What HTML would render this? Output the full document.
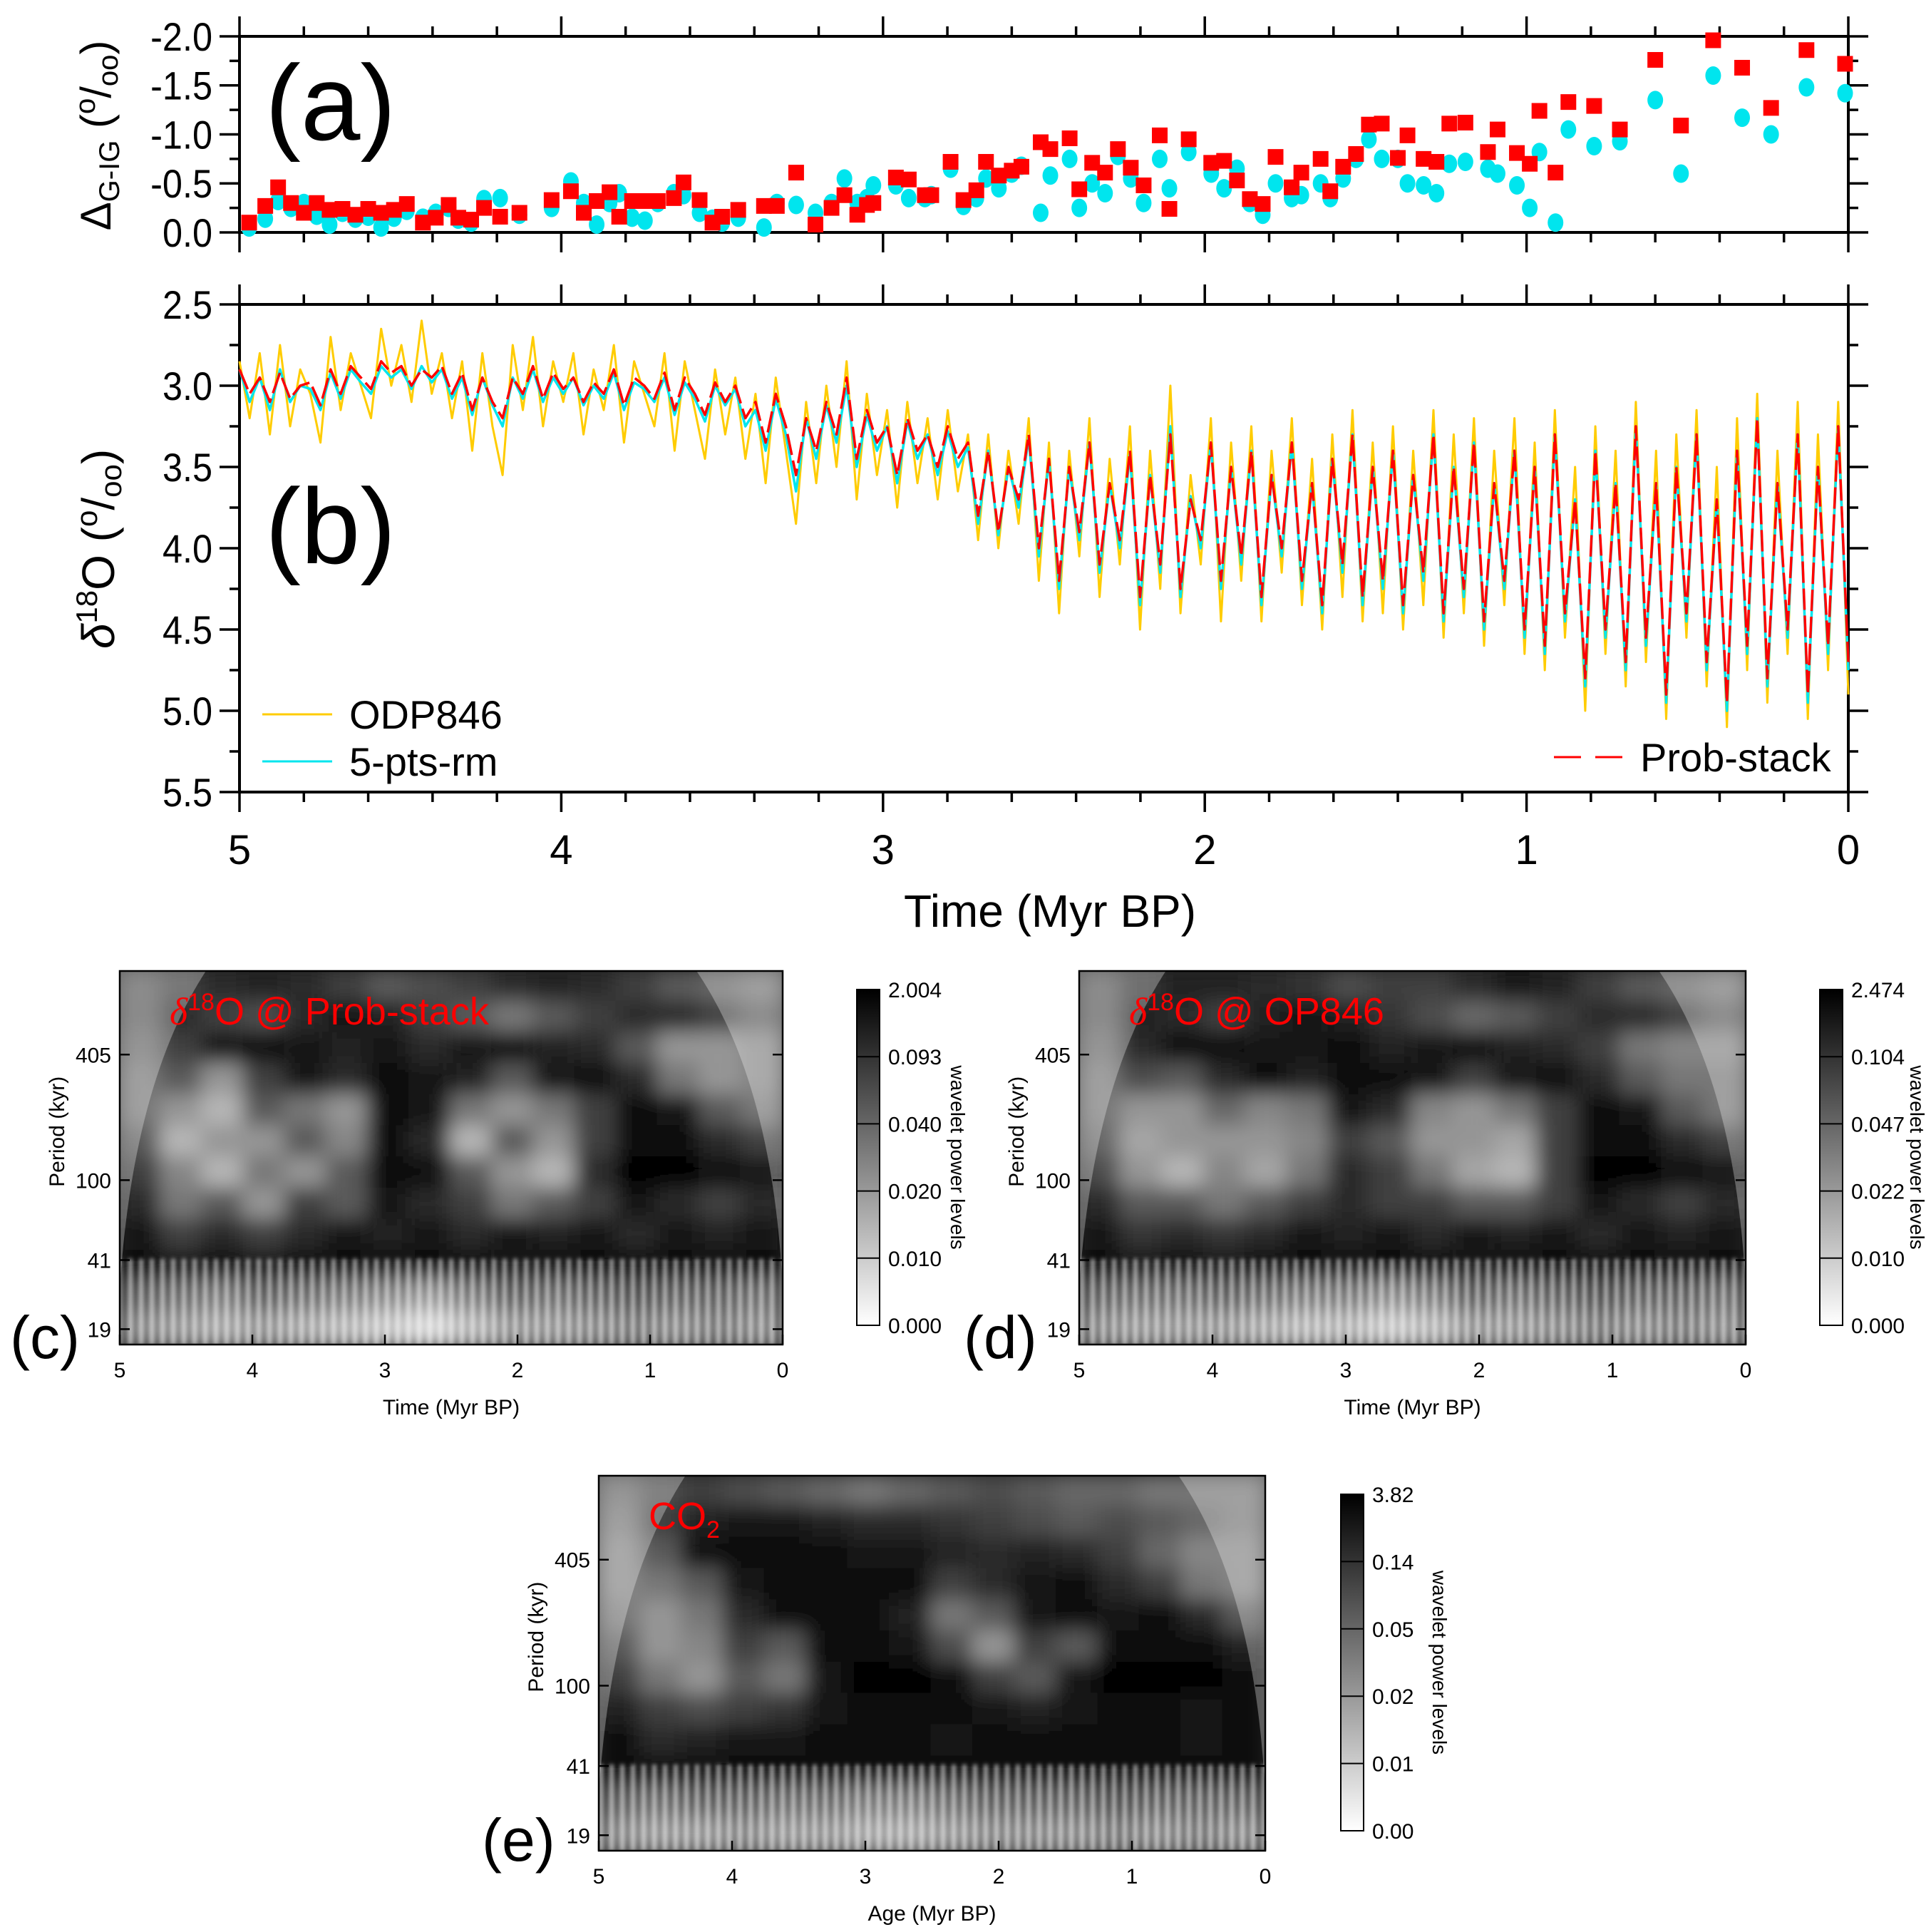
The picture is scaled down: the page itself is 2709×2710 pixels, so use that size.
<!DOCTYPE html>
<html><head><meta charset="utf-8"><style>
html,body{margin:0;padding:0;background:#fff}
svg{display:block;font-family:"Liberation Sans",sans-serif}
</style></head><body>
<svg id="fig" width="2709" height="2710" viewBox="0 0 2709 2710" xmlns="http://www.w3.org/2000/svg">
<defs>
<linearGradient id="cbg" x1="0" y1="0" x2="0" y2="1"><stop offset="0" stop-color="#000"/><stop offset="1" stop-color="#fff"/></linearGradient>
<filter id="blur" x="-10%" y="-10%" width="120%" height="120%"><feGaussianBlur stdDeviation="14"/></filter>
<filter id="blur2"><feGaussianBlur stdDeviation="3"/></filter>
<pattern id="streak" width="15" height="60" patternUnits="userSpaceOnUse"><rect x="0" y="0" width="6" height="60" fill="#fff" opacity="0.6"/></pattern>
</defs>
</svg>
<script>
// ---------- Panel (a) data ----------
const aTimes=[4.97,4.92,4.88,4.84,4.80,4.76,4.72,4.68,4.64,4.60,4.56,4.52,4.48,4.43,4.39,4.35,4.32,4.28,4.24,4.19,4.13,4.03,3.97,3.93,3.89,3.85,3.82,3.78,3.74,3.70,3.65,3.62,3.57,3.53,3.50,3.45,3.37,3.33,3.27,3.21,3.16,3.12,3.08,3.05,3.03,2.96,2.92,2.87,2.85,2.79,2.75,2.71,2.68,2.64,2.60,2.57,2.51,2.48,2.42,2.39,2.35,2.31,2.27,2.23,2.19,2.14,2.11,2.05,1.98,1.94,1.90,1.86,1.82,1.78,1.73,1.70,1.64,1.61,1.57,1.53,1.49,1.45,1.40,1.37,1.32,1.28,1.24,1.19,1.12,1.09,1.03,0.99,0.96,0.91,0.87,0.79,0.71,0.60,0.52,0.42,0.33,0.24,0.13,0.01];
const aRed=[-0.10,-0.27,-0.46,-0.30,-0.20,-0.30,-0.23,-0.24,-0.18,-0.24,-0.20,-0.23,-0.29,-0.10,-0.15,-0.28,-0.15,-0.13,-0.25,-0.16,-0.20,-0.33,-0.42,-0.20,-0.32,-0.41,-0.16,-0.32,-0.32,-0.32,-0.35,-0.51,-0.33,-0.10,-0.16,-0.23,-0.27,-0.27,-0.61,-0.08,-0.25,-0.38,-0.18,-0.28,-0.30,-0.56,-0.54,-0.38,-0.38,-0.72,-0.33,-0.43,-0.72,-0.58,-0.63,-0.67,-0.92,-0.85,-0.96,-0.44,-0.71,-0.61,-0.85,-0.66,-0.48,-0.99,-0.24,-0.95,-0.71,-0.73,-0.53,-0.34,-0.29,-0.77,-0.46,-0.61,-0.75,-0.42,-0.67,-0.80,-1.10,-1.11,-0.76,-0.99,-0.75,-0.72,-1.11,-1.12,-0.82,-1.05,-0.81,-0.70,-1.24,-0.61,-1.33,-1.29,-1.05,-1.76,-1.09,-1.96,-1.68,-1.27,-1.86,-1.72];
const aCyan=[-0.05,-0.14,-0.32,-0.25,-0.30,-0.17,-0.08,-0.20,-0.14,-0.16,-0.05,-0.15,-0.22,-0.15,-0.20,-0.25,-0.13,-0.10,-0.34,-0.35,-0.18,-0.25,-0.52,-0.30,-0.08,-0.30,-0.40,-0.15,-0.12,-0.30,-0.40,-0.38,-0.20,-0.14,-0.10,-0.15,-0.05,-0.30,-0.28,-0.20,-0.30,-0.55,-0.30,-0.35,-0.48,-0.48,-0.35,-0.35,-0.38,-0.65,-0.27,-0.35,-0.55,-0.45,-0.60,-0.68,-0.20,-0.58,-0.75,-0.25,-0.50,-0.40,-0.78,-0.55,-0.30,-0.75,-0.45,-0.82,-0.60,-0.45,-0.65,-0.30,-0.18,-0.50,-0.35,-0.38,-0.50,-0.35,-0.55,-0.75,-0.95,-0.75,-0.75,-0.50,-0.48,-0.40,-0.70,-0.72,-0.65,-0.60,-0.48,-0.25,-0.82,-0.10,-1.05,-0.88,-0.93,-1.35,-0.60,-1.60,-1.17,-1.00,-1.48,-1.42];

// ---------- Panel (b) data (time runs 5 -> 0, evenly spaced samples) ----------
const odp846=[2.85,3.20,2.80,3.30,2.75,3.25,2.90,3.05,3.35,2.70,3.15,2.80,3.00,3.20,2.65,3.00,2.75,3.10,2.60,3.05,2.80,3.20,2.85,3.40,2.80,3.25,3.55,2.75,3.15,2.70,3.25,2.85,3.10,2.80,3.30,2.90,3.15,2.75,3.35,2.85,3.05,3.25,2.80,3.40,2.85,3.15,3.45,2.90,3.30,2.95,3.45,
3.05,3.60,2.95,3.40,3.85,3.10,3.60,3.00,3.50,2.85,3.70,3.05,3.55,3.15,3.75,3.10,3.60,3.20,3.70,3.15,3.65,
3.30,3.95,3.30,4.00,3.40,3.85,3.20,4.20,3.35,4.40,3.40,4.05,3.20,4.30,3.45,4.10,3.25,4.50,3.40,4.25,3.00,4.40,3.55,4.10,3.20,4.45,3.35,4.20,3.25,4.45,3.40,4.15,3.20,4.35,3.45,4.50,3.30,4.30,3.15,4.45,3.35,4.40,3.25,4.50,3.40,4.35,3.15,4.55,3.30,4.40,3.20,4.60,3.40,4.35,3.20,4.65,
3.35,4.75,3.15,4.55,3.50,5.00,3.25,4.65,3.40,4.85,3.10,4.70,3.40,5.05,3.30,4.55,3.15,4.85,3.50,5.10,3.20,4.75,3.05,4.95,3.40,4.65,3.10,5.05,3.30,4.75,3.10,4.90];
const rm5=[2.90,3.10,2.95,3.15,2.90,3.10,3.00,3.02,3.15,2.92,3.08,2.90,2.98,3.05,2.88,2.95,2.90,3.02,2.88,2.98,2.90,3.08,2.95,3.18,2.95,3.12,3.25,2.95,3.08,2.90,3.10,2.95,3.05,2.95,3.12,3.00,3.08,2.92,3.15,2.98,3.02,3.10,2.95,3.18,2.98,3.08,3.22,3.00,3.12,3.02,3.25,
3.15,3.40,3.08,3.30,3.65,3.20,3.45,3.12,3.35,3.00,3.50,3.18,3.40,3.25,3.60,3.22,3.45,3.30,3.55,3.28,3.50,
3.38,3.85,3.40,3.92,3.50,3.75,3.32,4.05,3.45,4.25,3.50,3.95,3.35,4.15,3.60,4.00,3.42,4.35,3.55,4.15,3.25,4.30,3.68,4.00,3.35,4.25,3.50,4.10,3.40,4.35,3.55,4.05,3.35,4.25,3.60,4.40,3.45,4.15,3.30,4.35,3.50,4.25,3.40,4.40,3.55,4.20,3.30,4.45,3.50,4.30,3.35,4.50,3.60,4.25,3.40,4.55,
3.50,4.65,3.30,4.45,3.70,4.85,3.40,4.55,3.60,4.75,3.25,4.60,3.60,4.95,3.50,4.45,3.30,4.75,3.70,5.00,3.40,4.65,3.20,4.85,3.60,4.55,3.30,4.95,3.50,4.65,3.25,4.75];
const probStack=[2.90,3.05,2.95,3.10,2.92,3.08,3.00,2.98,3.12,2.90,3.05,2.88,2.95,3.02,2.85,2.92,2.88,3.00,2.90,2.95,2.88,3.05,2.92,3.15,2.95,3.10,3.20,2.95,3.05,2.88,3.08,2.92,3.02,2.95,3.10,2.98,3.05,2.90,3.12,2.95,3.00,3.08,2.92,3.15,2.95,3.05,3.18,2.98,3.10,3.00,3.20,
3.10,3.35,3.05,3.25,3.55,3.20,3.40,3.10,3.30,2.95,3.45,3.15,3.35,3.25,3.55,3.20,3.40,3.30,3.50,3.25,3.45,
3.35,3.80,3.40,3.90,3.50,3.70,3.30,4.00,3.45,4.20,3.50,3.90,3.35,4.10,3.60,3.95,3.40,4.30,3.55,4.10,3.30,4.25,3.70,3.95,3.35,4.20,3.50,4.05,3.40,4.30,3.55,4.00,3.35,4.20,3.60,4.35,3.45,4.10,3.30,4.30,3.50,4.20,3.40,4.35,3.55,4.15,3.30,4.40,3.50,4.25,3.35,4.45,3.60,4.20,3.40,4.50,
3.50,4.60,3.30,4.40,3.70,4.80,3.40,4.50,3.60,4.70,3.25,4.55,3.60,4.90,3.50,4.40,3.30,4.70,3.70,4.95,3.40,4.60,3.20,4.80,3.60,4.50,3.30,4.90,3.50,4.60,3.25,4.70];
const timeTicks=[5,4,3,2,1,0];
const aTickLabels=["-2.0","-1.5","-1.0","-0.5","0.0"];
const aTickVals=[-2.0,-1.5,-1.0,-0.5,0.0];
const bTickVals=[2.5,3.0,3.5,4.0,4.5,5.0,5.5];
const bTickLabels=["2.5","3.0","3.5","4.0","4.5","5.0","5.5"];

// ---------- Wavelet data (darkness 0..1; rows: long period -> short period; cols: 5 -> 0 Myr) ----------
const waveGridC=[
[0.5,0.6,0.7,0.75,0.7,0.6,0.5,0.55,0.6,0.7,0.75,0.7,0.6,0.5,0.45,0.4],
[0.5,0.7,0.6,0.55,0.7,0.8,0.75,0.6,0.5,0.4,0.5,0.6,0.7,0.7,0.6,0.5],
[0.45,0.6,0.8,0.85,0.8,0.75,0.8,0.7,0.8,0.85,0.75,0.7,0.5,0.3,0.3,0.35],
[0.4,0.5,0.3,0.6,0.8,0.7,0.9,0.8,0.75,0.5,0.8,0.85,0.7,0.4,0.3,0.35],
[0.4,0.3,0.2,0.5,0.4,0.3,0.9,0.8,0.4,0.3,0.4,0.6,0.85,0.8,0.5,0.4],
[0.5,0.2,0.3,0.3,0.5,0.35,0.85,0.7,0.2,0.5,0.3,0.6,0.9,0.9,0.7,0.6],
[0.6,0.35,0.2,0.4,0.3,0.5,0.9,0.9,0.5,0.3,0.2,0.7,0.95,0.95,0.9,0.8],
[0.7,0.4,0.5,0.3,0.6,0.5,0.8,0.7,0.6,0.4,0.5,0.6,0.8,0.7,0.6,0.7],
[0.8,0.6,0.7,0.6,0.7,0.8,0.75,0.8,0.7,0.8,0.75,0.8,0.7,0.8,0.75,0.8],
[0.85,0.8,0.85,0.8,0.9,0.85,0.9,0.85,0.9,0.8,0.9,0.85,0.9,0.85,0.9,0.85],
[0.5,0.45,0.4,0.5,0.45,0.4,0.35,0.3,0.4,0.5,0.45,0.5,0.55,0.5,0.5,0.45],
[0.35,0.3,0.25,0.3,0.25,0.2,0.15,0.1,0.2,0.3,0.3,0.35,0.4,0.35,0.4,0.35]];
const waveGridD=[
[0.5,0.65,0.75,0.75,0.7,0.65,0.55,0.6,0.6,0.7,0.8,0.75,0.6,0.5,0.45,0.4],
[0.5,0.75,0.7,0.6,0.75,0.8,0.75,0.65,0.55,0.45,0.5,0.6,0.7,0.7,0.6,0.5],
[0.45,0.7,0.85,0.85,0.8,0.8,0.85,0.75,0.8,0.85,0.75,0.7,0.6,0.4,0.35,0.35],
[0.4,0.55,0.5,0.7,0.85,0.75,0.9,0.85,0.8,0.6,0.8,0.85,0.7,0.5,0.4,0.4],
[0.4,0.3,0.3,0.45,0.35,0.4,0.8,0.7,0.35,0.3,0.4,0.6,0.85,0.8,0.5,0.4],
[0.45,0.25,0.3,0.3,0.3,0.35,0.6,0.5,0.3,0.3,0.25,0.6,0.9,0.9,0.7,0.6],
[0.55,0.3,0.2,0.35,0.25,0.4,0.7,0.6,0.4,0.25,0.2,0.6,0.95,0.95,0.9,0.8],
[0.7,0.5,0.5,0.4,0.5,0.6,0.7,0.6,0.6,0.5,0.5,0.6,0.8,0.7,0.6,0.7],
[0.8,0.65,0.7,0.65,0.7,0.8,0.75,0.8,0.7,0.8,0.75,0.8,0.7,0.8,0.75,0.8],
[0.85,0.8,0.85,0.8,0.9,0.85,0.9,0.85,0.9,0.8,0.9,0.85,0.9,0.85,0.9,0.85],
[0.5,0.45,0.45,0.5,0.45,0.4,0.4,0.35,0.4,0.5,0.45,0.5,0.55,0.5,0.5,0.45],
[0.35,0.3,0.3,0.3,0.25,0.2,0.2,0.15,0.2,0.3,0.3,0.35,0.4,0.35,0.4,0.35]];
const waveGridE=[
[0.45,0.55,0.6,0.55,0.5,0.45,0.4,0.45,0.5,0.55,0.5,0.45,0.45,0.4,0.4,0.4],
[0.4,0.6,0.75,0.8,0.8,0.75,0.7,0.7,0.65,0.6,0.55,0.5,0.55,0.5,0.45,0.4],
[0.35,0.5,0.85,0.9,0.9,0.85,0.8,0.8,0.75,0.7,0.75,0.7,0.6,0.45,0.35,0.35],
[0.35,0.4,0.5,0.8,0.9,0.9,0.85,0.85,0.6,0.7,0.8,0.85,0.7,0.6,0.4,0.35],
[0.4,0.3,0.4,0.7,0.85,0.9,0.9,0.75,0.4,0.5,0.8,0.85,0.8,0.85,0.7,0.5],
[0.5,0.3,0.35,0.6,0.5,0.85,0.9,0.8,0.55,0.3,0.6,0.5,0.85,0.9,0.85,0.75],
[0.6,0.4,0.3,0.5,0.4,0.8,0.95,0.95,0.9,0.6,0.5,0.8,0.95,0.95,0.95,0.9],
[0.75,0.6,0.55,0.6,0.65,0.8,0.85,0.85,0.85,0.8,0.75,0.8,0.85,0.85,0.8,0.85],
[0.85,0.7,0.75,0.8,0.8,0.85,0.85,0.85,0.8,0.85,0.85,0.85,0.85,0.85,0.8,0.85],
[0.9,0.85,0.9,0.9,0.9,0.9,0.9,0.9,0.9,0.9,0.9,0.9,0.9,0.9,0.9,0.9],
[0.5,0.45,0.5,0.5,0.45,0.45,0.4,0.4,0.45,0.5,0.5,0.5,0.55,0.5,0.5,0.5],
[0.35,0.3,0.3,0.35,0.3,0.3,0.25,0.25,0.3,0.35,0.35,0.35,0.4,0.35,0.4,0.35]];
const periodTicks=[405,100,41,19];
const cbLabelsC=["2.004","0.093","0.040","0.020","0.010","0.000"];
const cbLabelsD=["2.474","0.104","0.047","0.022","0.010","0.000"];
const cbLabelsE=["3.82","0.14","0.05","0.02","0.01","0.00"];

const NS="http://www.w3.org/2000/svg";
const svg=document.getElementById('fig');
function mk(tag,attrs,parent){const e=document.createElementNS(NS,tag);for(const k in attrs)e.setAttribute(k,attrs[k]);(parent||svg).appendChild(e);return e;}

// ---------- Top axes geometry ----------
const X0=336,X1=2593;
const xT=t=>X0+(5-t)/5*(X1-X0);
const aY0=51,aY1=326;
const yA=v=>aY1-(v/-2.0)*(aY1-aY0);
const bY0=427,bY1=1111;
const yB=v=>bY0+(v-2.5)/3.0*(bY1-bY0);

function frame(y0,y1,name,majorVals,yfun,labels){
  const g=mk('g',{});
  
  
  const r=mk('rect',{x:X0,y:y0,width:X1-X0,height:y1-y0,fill:'none',stroke:'#000','stroke-width':4},g);
  
  
  for(let i=0;i<=25;i++){
    const t=5-i*0.2, x=xT(t), major=(i%5===0);
    const L=major?28:14;
    const tk=mk('path',{d:`M${x},${y0}V${y0-L}M${x},${y1}V${y1+L}`,stroke:'#000','stroke-width':3.5},g);
    
    
  }
  majorVals.forEach((v,i)=>{
    const y=yfun(v);
    const tk=mk('path',{d:`M${X0},${y}H${X0-28}M${X1},${y}H${X1+28}`,stroke:'#000','stroke-width':3.5},g);
    
    
    const tx=mk('text',{x:X0-38,y:y+20,'text-anchor':'end','font-size':56,transform:`translate(${X0-38},${y}) scale(0.9,1) translate(${-(X0-38)},${-y})`},g);
    tx.textContent=labels[i];
    
    
    if(i<majorVals.length-1){
      const ym=yfun((v+majorVals[i+1])/2);
      const mt=mk('path',{d:`M${X0},${ym}H${X0-14}M${X1},${ym}H${X1+14}`,stroke:'#000','stroke-width':3.5},g);
      
      
    }
  });
  return g;
}
frame(aY0,aY1,'panel-a-axes',aTickVals,yA,aTickLabels);
frame(bY0,bY1,'panel-b-axes',bTickVals,yB,bTickLabels);

timeTicks.forEach(t=>{
  const tx=mk('text',{x:xT(t),y:1212,'text-anchor':'middle','font-size':58});
  tx.textContent=String(t);
  
  
});

aTimes.forEach((t,i)=>{
  const c=mk('ellipse',{cx:xT(t),cy:yA(aCyan[i]),rx:11,ry:13,fill:'#00e5ee'});
  
  
});
aTimes.forEach((t,i)=>{
  const s=mk('rect',{x:xT(t)-11,y:yA(aRed[i])-11,width:22,height:22,fill:'#ff0000'});
  
  
});

function series(arr,color,w,dash,name){
  const n=arr.length;
  const pts=arr.map((v,i)=>`${xT(5-5*i/(n-1)).toFixed(1)},${yB(v).toFixed(1)}`).join(' ');
  const p=mk('polyline',{points:pts,fill:'none',stroke:color,'stroke-width':w,'stroke-dasharray':dash||'none','stroke-linejoin':'round'});
  
  
}
series(odp846,'#ffcc00',3,null,'odp846-line');
series(rm5,'#00e5ee',3.5,null,'rm5-line');
series(probStack,'#ff0000',3.5,'30 8','prob-stack-line');
</script>
<script>
(function(){
const add=(tag,attrs,text,name)=>{const e=mk(tag,attrs);if(text!==null)e.textContent=text;return e;};
add('text',{x:372,y:196,'font-size':150},'(a)','panel-a-label');
add('text',{x:372,y:790,'font-size':150},'(b)','panel-b-label');
const ya=add('text',{x:0,y:0,'font-size':60,transform:'translate(155,190) rotate(-90)','text-anchor':'middle'},null,'panel-a-y-title');
ya.innerHTML='Δ<tspan font-size="40" dy="12">G-IG</tspan><tspan dy="-12"> (</tspan><tspan font-size="40" dy="-22">o</tspan><tspan dy="22">/</tspan><tspan font-size="40" dy="10">oo</tspan><tspan dy="-10">)</tspan>';
const yb=add('text',{x:0,y:0,'font-size':64,transform:'translate(160,770) rotate(-90)','text-anchor':'middle'},null,'panel-b-y-title');
yb.innerHTML='<tspan font-style="italic">δ</tspan><tspan font-size="42" dy="-24">18</tspan><tspan dy="24">O (</tspan><tspan font-size="42" dy="-24">o</tspan><tspan dy="24">/</tspan><tspan font-size="42" dy="10">oo</tspan><tspan dy="-10">)</tspan>';
add('text',{x:1473,y:1300,'font-size':64,'text-anchor':'middle'},'Time (Myr BP)','x-axis-title');
add('line',{x1:368,y1:1002,x2:466,y2:1002,stroke:'#ffcc00','stroke-width':3},null,'legend-odp846-swatch');
add('text',{x:490,y:1022,'font-size':56},'ODP846','legend-odp846-label');
add('line',{x1:368,y1:1068,x2:466,y2:1068,stroke:'#00e5ee','stroke-width':3},null,'legend-rm5-swatch');
add('text',{x:490,y:1088,'font-size':56},'5-pts-rm','legend-rm5-label');
add('line',{x1:2180,y1:1062,x2:2277,y2:1062,stroke:'#ff0000','stroke-width':3,'stroke-dasharray':'38 20'},null,'legend-prob-stack-swatch');
add('text',{x:2301,y:1082,'font-size':56},'Prob-stack','legend-prob-stack-label');
})();

function wavelet(cfg){
  const {x0,y0,w,h,grid,id,cbx,cby0,cby1,cbLabels,title,letter,letterX,letterY,xlabel,cbTitleX}=cfg;
  const P0=1028,P1=16;
  const yP=p=>y0+(Math.log10(P0)-Math.log10(p))/(Math.log10(P0)-Math.log10(P1))*h;
  const xW=t=>x0+(5-t)/5*w;
  const g=mk('g',{});
  
  
  const cp=mk('clipPath',{id:'clip'+id},g);
  mk('rect',{x:x0,y:y0,width:w,height:h},cp);
  const inner=mk('g',{'clip-path':`url(#clip${id})`},g);
  mk('rect',{x:x0,y:y0,width:w,height:h,fill:'#222'},inner);
  const hm=mk('g',{filter:'url(#blur)'},inner);
  
  
  const R=grid.length,C=grid[0].length;
  grid.forEach((row,r)=>row.forEach((v,c)=>{
    const gv=Math.round(255*Math.pow(1-v,1.5));
    const cell=mk('rect',{x:x0+c*w/C-2,y:y0+r*h/R-2,width:w/C+4,height:h/R+4,fill:`rgb(${gv},${gv},${gv})`},hm);
    
    
  }));
  const st=mk('rect',{x:x0,y:y0+h*0.77,width:w,height:h*0.23,fill:'url(#streak)',filter:'url(#blur2)'},inner);
  
  
  const coi=mk('path',{d:`M${x0},${y0}H${x0+w*0.13}Q${x0+w*0.02},${y0+h*0.3} ${x0},${y0+h*0.85}Z M${x0+w},${y0}H${x0+w*0.87}Q${x0+w*0.985},${y0+h*0.3} ${x0+w},${y0+h*0.85}Z`,fill:'#fff',opacity:0.3},inner);
  
  
  const fr=mk('rect',{x:x0,y:y0,width:w,height:h,fill:'none',stroke:'#000','stroke-width':2.5},g);
  
  
  periodTicks.forEach(p=>{
    const y=yP(p);
    const tk=mk('path',{d:`M${x0},${y}h14M${x0+w},${y}h-14`,stroke:'#000','stroke-width':2.5},g);
    
    
    const t=mk('text',{x:x0-12,y:y+11,'text-anchor':'end','font-size':30},g);
    t.textContent=String(p);
    
    
  });
  timeTicks.forEach(tv=>{
    const x=xW(tv);
    const tk=mk('path',{d:`M${x},${y0+h}v-14`,stroke:'#000','stroke-width':2.5},g);
    
    
    const t=mk('text',{x:x,y:y0+h+46,'text-anchor':'middle','font-size':30},g);
    t.textContent=String(tv);
    
    
  });
  const xl=mk('text',{x:x0+w/2,y:y0+h+98,'text-anchor':'middle','font-size':30},g);
  xl.textContent=xlabel;
  
  
  const yl=mk('text',{x:0,y:0,'text-anchor':'middle','font-size':30,transform:`translate(${x0-78},${y0+h*0.43}) rotate(-90)`},g);
  yl.textContent='Period (kyr)';
  
  
  const tt=mk('text',{x:x0+70,y:y0+75,'font-size':54,fill:'#ff0000'},g);
  tt.innerHTML=title;
  
  
  const lt=mk('text',{x:letterX,y:letterY,'font-size':84},g);
  lt.textContent=letter;
  
  
  const cb=mk('rect',{x:cbx,y:cby0,width:32,height:cby1-cby0,fill:'url(#cbg)',stroke:'#000','stroke-width':2},g);
  
  
  cbLabels.forEach((lab,i)=>{
    const y=cby0+i*(cby1-cby0)/(cbLabels.length-1);
    const ln=mk('line',{x1:cbx,x2:cbx+32,y1:y,y2:y,stroke:'#000','stroke-width':2},g);
    
    
    const t=mk('text',{x:cbx+44,y:y+11,'font-size':30},g);
    t.textContent=lab;
    
    
  });
  const ct=mk('text',{x:0,y:0,'text-anchor':'middle','font-size':28,transform:`translate(${cbTitleX},${(cby0+cby1)/2}) rotate(90)`},g);
  ct.textContent='wavelet power levels';
  
  
}
wavelet({x0:168,y0:1362,w:930,h:524,grid:waveGridC,id:'c',cbx:1202,cby0:1388,cby1:1859,cbLabels:cbLabelsC,
  title:'<tspan font-style="italic" font-family="Liberation Serif">δ</tspan><tspan font-size="34" dy="-20">18</tspan><tspan dy="20">O @ Prob-stack</tspan>',
  letter:'(c)',letterX:14,letterY:1905,xlabel:'Time (Myr BP)',cbTitleX:1334});
wavelet({x0:1514,y0:1362,w:935,h:524,grid:waveGridD,id:'d',cbx:2553,cby0:1388,cby1:1859,cbLabels:cbLabelsD,
  title:'<tspan font-style="italic" font-family="Liberation Serif">δ</tspan><tspan font-size="34" dy="-20">18</tspan><tspan dy="20">O @ OP846</tspan>',
  letter:'(d)',letterX:1352,letterY:1905,xlabel:'Time (Myr BP)',cbTitleX:2680});
wavelet({x0:840,y0:2070,w:935,h:526,grid:waveGridE,id:'e',cbx:1881,cby0:2096,cby1:2568,cbLabels:cbLabelsE,
  title:'CO<tspan font-size="34" dy="12">2</tspan>',
  letter:'(e)',letterX:676,letterY:2610,xlabel:'Age (Myr BP)',cbTitleX:2010});
</script>
</body></html>
